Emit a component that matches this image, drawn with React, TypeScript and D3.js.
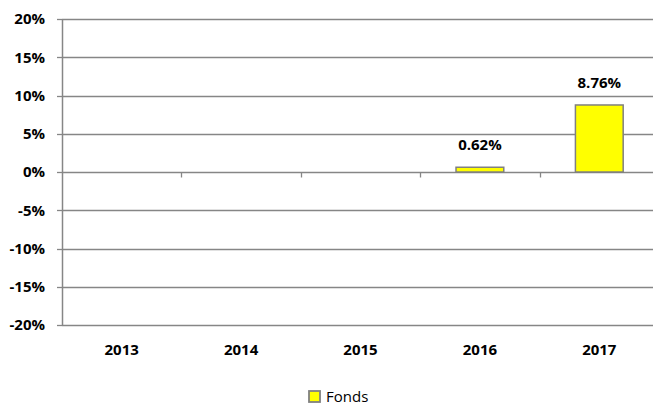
import { useEffect, useRef } from 'react';
import * as d3 from 'd3';

const categories = ['2013', '2014', '2015', '2016', '2017'];
const fonds: (number | null)[] = [null, null, null, 0.62, 8.76];
const yTicks = [-20, -15, -10, -5, 0, 5, 10, 15, 20];
const seriesName = 'Fonds';

const W = 653;
const H = 407;
const FONT = '"Open Sans", sans-serif';

export default function App() {
  const ref = useRef<SVGSVGElement | null>(null);

  useEffect(() => {
    const svg = d3.select(ref.current);
    svg.selectAll('*').remove();

    const margin = { top: 19, right: -6, bottom: 82, left: 62 };
    const innerW = W - margin.left - margin.right;
    const innerH = H - margin.top - margin.bottom;

    const x = d3.scaleBand().domain(categories).range([0, innerW]).paddingInner(0.6).paddingOuter(0.3);
    const xOuter = d3.scaleBand().domain(categories).range([0, innerW]);
    const y = d3.scaleLinear().domain([-20, 20]).range([innerH, 0]);

    const g = svg.append('g').attr('transform', `translate(${margin.left},${margin.top})`);
    const grey = '#868686';

    // gridlines
    g.selectAll('line.grid')
      .data(yTicks)
      .join('line')
      .attr('x1', 0)
      .attr('x2', innerW)
      .attr('y1', d => Math.round(y(d)) + 0.5)
      .attr('y2', d => Math.round(y(d)) + 0.5)
      .attr('stroke', grey)
      .attr('stroke-width', 1.3);

    // y axis
    g.append('line')
      .attr('x1', 0.5).attr('x2', 0.5)
      .attr('y1', 0).attr('y2', innerH)
      .attr('stroke', grey).attr('stroke-width', 1.5);
    g.selectAll('line.ytick')
      .data(yTicks)
      .join('line')
      .attr('x1', -5).attr('x2', 0)
      .attr('y1', d => Math.round(y(d)) + 0.5)
      .attr('y2', d => Math.round(y(d)) + 0.5)
      .attr('stroke', grey).attr('stroke-width', 1.3);
    g.selectAll('text.ylab')
      .data(yTicks)
      .join('text')
      .attr('x', -17)
      .attr('y', d => y(d))
      .attr('dy', '0.36em')
      .attr('text-anchor', 'end')
      .attr('font-family', FONT)
      .attr('font-weight', 'bold')
      .attr('font-size', 15)
      .attr('fill', '#000')
      .text(d => `${d}%`);

    // category ticks along the 0% line
    const y0 = Math.round(y(0)) + 0.5;
    g.selectAll('line.xtick')
      .data(categories.slice(1))
      .join('line')
      .attr('x1', d => Math.round(xOuter(d)!) + 0.5)
      .attr('x2', d => Math.round(xOuter(d)!) + 0.5)
      .attr('y1', y0)
      .attr('y2', y0 + 5)
      .attr('stroke', grey).attr('stroke-width', 1.3);

    // x labels
    g.selectAll('text.xlab')
      .data(categories)
      .join('text')
      .attr('x', d => xOuter(d)! + xOuter.bandwidth() / 2)
      .attr('y', innerH + 30)
      .attr('text-anchor', 'middle')
      .attr('font-family', FONT)
      .attr('font-weight', 'bold')
      .attr('font-size', 15)
      .text(d => d);

    // bars
    const data = categories.map((c, i) => ({ c, v: fonds[i] })).filter(d => d.v !== null) as { c: string; v: number }[];
    g.selectAll('rect.bar')
      .data(data)
      .join('rect')
      .attr('x', d => x(d.c)!)
      .attr('width', x.bandwidth())
      .attr('y', d => y(Math.max(0, d.v)))
      .attr('height', d => Math.abs(y(d.v) - y(0)))
      .attr('fill', '#ffff00')
      .attr('stroke', '#808080')
      .attr('stroke-width', 1.5);

    g.selectAll('text.val')
      .data(data)
      .join('text')
      .attr('x', d => x(d.c)! + x.bandwidth() / 2)
      .attr('y', d => y(d.v) - 17)
      .attr('text-anchor', 'middle')
      .attr('font-family', FONT)
      .attr('font-weight', 'bold')
      .attr('font-size', 15)
      .text(d => `${d.v.toFixed(2)}%`);

    // legend
    const lg = svg.append('g').attr('transform', 'translate(309,391)');
    lg.append('rect')
      .attr('width', 11).attr('height', 11)
      .attr('fill', '#ffff00')
      .attr('stroke', '#808080')
      .attr('stroke-width', 1.8);
    lg.append('text')
      .attr('x', 17)
      .attr('y', 11)
      .attr('font-family', FONT)
      .attr('font-size', 15)
      .text(seriesName);
  }, []);

  return (
    <div style={{ position: 'fixed', left: 0, top: 0, width: W, height: H, background: '#fff' }}>
      <svg ref={ref} width={W} height={H} style={{ display: 'block' }}></svg>
    </div>
  );
}
